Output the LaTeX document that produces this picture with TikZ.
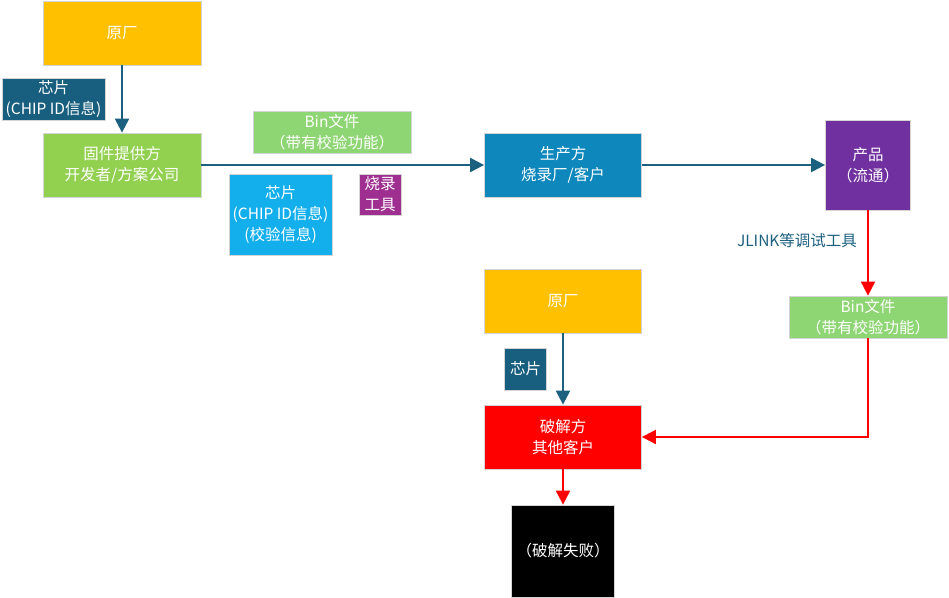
\documentclass[tikz,border=0pt]{standalone}
\usepackage{fontspec}
\setmainfont{Noto Sans CJK SC}
\usetikzlibrary{arrows.meta}

\definecolor{ycorange}{RGB}{255,192,0}
\definecolor{fwgreen}{RGB}{146,208,80}
\definecolor{bingreen}{RGB}{142,214,115}
\definecolor{chipdark}{RGB}{24,94,126}
\definecolor{chiplight}{RGB}{18,175,236}
\definecolor{prodblue}{RGB}{14,135,188}
\definecolor{goodpurple}{RGB}{112,48,160}
\definecolor{toolpurple}{RGB}{158,46,144}
\definecolor{lineblue}{RGB}{28,96,128}
\definecolor{edgegray}{RGB}{212,212,212}

\begin{document}
\begin{tikzpicture}[x=1pt, y=-1pt, >={Triangle[length=14pt, width=14pt]}, line join=miter]

		% ================= 1. 样式 =================
		\tikzset{
			blk/.style={draw=edgegray, line width=0.8pt, text=white, align=center,
				inner sep=0pt, font=\fontsize{15.5}{21}\selectfont},
			flowb/.style={->, draw=lineblue, line width=2.2pt},
			flowr/.style={->, draw=red, line width=2pt}
		}
		\useasboundingbox (0,0) rectangle (949,597);

		% ================= 2. 正常流程 =================
		\node[blk, fill=ycorange, minimum width=158pt, minimum height=64pt] (yc1) at (122,33) {原厂};
		\node[blk, fill=chipdark, minimum width=103pt, minimum height=42pt] (chip1) at (53.5,99) {芯片\\(CHIP ID信息)};
		\node[blk, fill=fwgreen, minimum width=158pt, minimum height=64pt] (fw) at (122,165) {固件提供方\\开发者/方案公司};
		\node[blk, fill=bingreen, minimum width=158pt, minimum height=42pt] (bin1) at (332,132.5) {Bin文件\\（带有校验功能）};
		\node[blk, fill=chiplight, minimum width=103pt, minimum height=81pt] (chip2) at (280.5,214.5) {芯片\\(CHIP ID信息)\\(校验信息)};
		\node[blk, fill=toolpurple, minimum width=42pt, minimum height=41pt] (tool) at (380,194.5) {烧录\\工具};
		\node[blk, fill=prodblue, minimum width=157pt, minimum height=64pt] (maker) at (563,165) {生产方\\烧录厂/客户};
		\node[blk, fill=goodpurple, minimum width=85pt, minimum height=90pt] (goods) at (868,165) {产品\\（流通）};

		\draw[flowb] (yc1.south) -- (fw.north);
		\draw[flowb] (fw.east) -- (maker.west);
		\draw[flowb] (maker.east) -- (goods.west);

		% ================= 3. 破解流程 =================
		\node[text=lineblue, font=\fontsize{15.5}{21}\selectfont] (jlink) at (797,241) {JLINK等调试工具};
		\node[blk, fill=bingreen, minimum width=158pt, minimum height=42pt] (bin2) at (868,317) {Bin文件\\（带有校验功能）};
		\node[blk, fill=ycorange, minimum width=157pt, minimum height=64pt] (yc2) at (563,301) {原厂};
		\node[blk, fill=chipdark, minimum width=42pt, minimum height=42pt] (chip3) at (525.5,369) {芯片};
		\node[blk, fill=red, minimum width=157pt, minimum height=64pt] (crack) at (563,437) {破解方\\其他客户};
		\node[blk, fill=black, minimum width=103pt, minimum height=92pt] (fail) at (563,551) {（破解失败）};

		\draw[flowr] (goods.south) -- (bin2.north);
		\draw[flowr] (bin2.south) |- (crack.east);
		\draw[flowb] (yc2.south) -- (crack.north);
		\draw[flowr] (crack.south) -- (fail.north);

	\end{tikzpicture}
\end{document}
